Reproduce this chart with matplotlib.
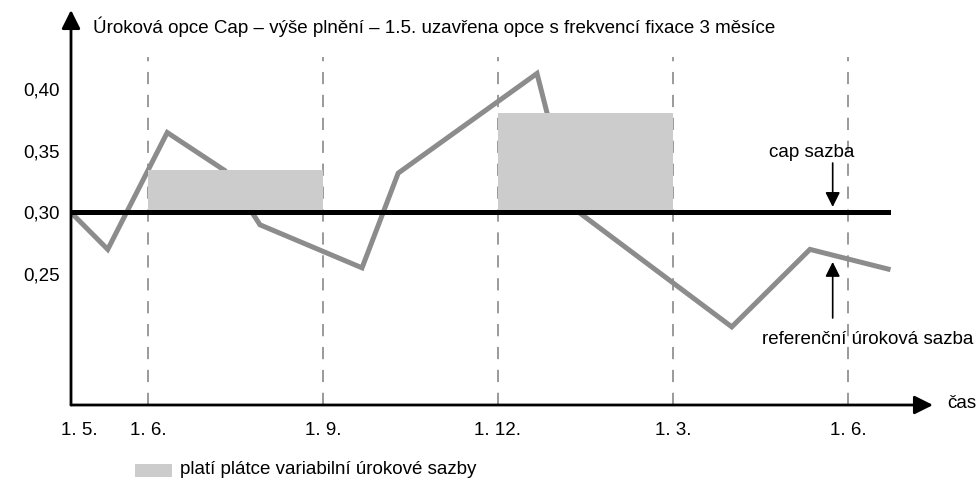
import matplotlib
matplotlib.use('Agg')
import matplotlib.pyplot as plt
from matplotlib.patches import Rectangle

plt.rcParams['font.family'] = ['Liberation Sans Narrow', 'Liberation Sans', 'DejaVu Sans']
FS = 13.5

# Data (x v měsících, 1.6. = 1)
cas = [-0.32, 0.31, 1.33, 2.32, 2.92, 4.67, 5.29, 7.67, 8.25, 11.01, 12.35, 13.69]
sazba = [0.300, 0.270, 0.365, 0.334, 0.290, 0.255, 0.332, 0.413, 0.305, 0.207, 0.270, 0.254]
cap = 0.30
fixace = [1, 4, 7, 10, 13]
fixace_labels = ['1. 6.', '1. 9.', '1. 12.', '1. 3.', '1. 6.']
platby_od = [1, 7]
platby_do = [4, 10]
platby_vyse = [0.3346, 0.381]
yticks = [0.25, 0.30, 0.35, 0.40]
ytick_labels = ['0,25', '0,30', '0,35', '0,40']

W, H = 977, 479
fig = plt.figure(figsize=(W / 100, H / 100), dpi=100)
ax = fig.add_axes([71 / W, (H - 405) / H, (933 - 71) / W, (405 - 10) / H])
x0, x1 = -0.32, 14.46
y0, y1 = 0.1435, 0.4646
ax.set_xlim(x0, x1)
ax.set_ylim(y0, y1)
for s in ax.spines.values():
    s.set_visible(False)

# svislé čárkované čáry
ax.vlines(fixace, y0, 0.4264, colors='#7f7f7f', linewidth=1.1,
          linestyles=(0, (8, 7)), zorder=1)

# referenční úroková sazba
ax.plot(cas, sazba, color='#8c8c8c', linewidth=3.6, zorder=2, solid_joinstyle='miter')

# plnění z opce
for od, do, vyse in zip(platby_od, platby_do, platby_vyse):
    ax.add_patch(Rectangle((od, cap), do - od, vyse - cap, facecolor='#cccccc',
                           edgecolor='none', zorder=3))

# cap sazba
ax.plot([x0, 13.69], [cap, cap], color='black', linewidth=3.6, zorder=4)

# osy se šipkami
ax.annotate('', xy=(1, 0), xytext=(0, 0), xycoords='axes fraction',
            arrowprops=dict(arrowstyle='-|>', color='black', lw=2, mutation_scale=28,
                            shrinkA=0, shrinkB=0), annotation_clip=False)
ax.annotate('', xy=(0, 1), xytext=(0, 0), xycoords='axes fraction',
            arrowprops=dict(arrowstyle='-|>', color='black', lw=2, mutation_scale=28,
                            shrinkA=0, shrinkB=0), annotation_clip=False)

ax.set_xticks([-0.17] + fixace)
ax.set_xticklabels(['1. 5.'] + fixace_labels, fontsize=FS)
ax.set_yticks(yticks)
ax.set_yticklabels(ytick_labels, fontsize=FS)
ax.tick_params(length=0)
ax.tick_params(axis='x', pad=12)
ax.tick_params(axis='y', pad=8)

# popisky
ax.text(12.38, 0.349, 'cap sazba', fontsize=FS, ha='center', va='center')
ax.annotate('', xy=(12.74, 0.3045), xytext=(12.74, 0.3402),
            arrowprops=dict(arrowstyle='-|>', color='black', lw=1.2, mutation_scale=22,
                            shrinkA=0, shrinkB=0))
ax.annotate('', xy=(12.74, 0.2598), xytext=(12.74, 0.2142),
            arrowprops=dict(arrowstyle='-|>', color='black', lw=1.2, mutation_scale=22,
                            shrinkA=0, shrinkB=0))
ax.text(11.52, 0.1967, 'referenční úroková sazba', fontsize=FS, ha='left', va='center')

fig.text(93 / W, 1 - 27 / H,
         'Úroková opce Cap – výše plnění – 1.5. uzavřena opce s frekvencí fixace 3 měsíce',
         fontsize=FS, ha='left', va='center')
fig.text(947 / W, 1 - 403 / H, 'čas', fontsize=FS, ha='left', va='center')

# legenda
fig.patches.append(Rectangle((135 / W, 1 - 477 / H), 37 / W, 13 / H, facecolor='#cccccc',
                             edgecolor='none', transform=fig.transFigure, figure=fig))
fig.text(180 / W, 1 - 469 / H, 'platí plátce variabilní úrokové sazby',
         fontsize=FS, ha='left', va='center')

fig.savefig('out.png', dpi=100)
